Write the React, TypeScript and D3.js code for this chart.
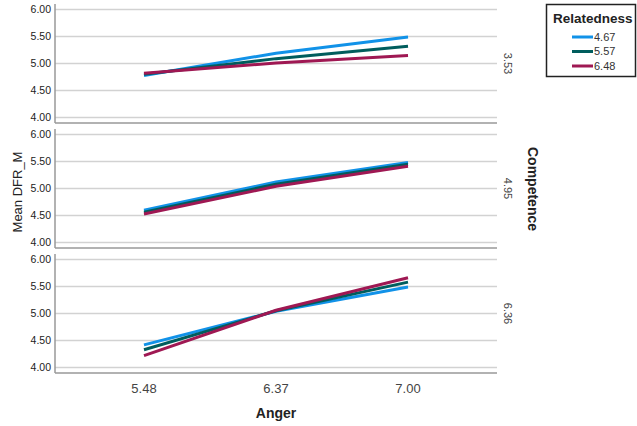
import React from "react";
import * as d3 from "d3";

// Anger levels on the x axis
const angerLevels = ["5.48", "6.37", "7.00"];
// Competence panels (one row each)
const competenceLevels = ["3.53", "4.95", "6.36"];
// Relatedness series
const relatednessLevels = ["4.67", "5.57", "6.48"];
const seriesColors = ["#1192E8", "#005D5D", "#9F1853"];

// Mean DFR_M per competence panel, per relatedness series, across anger levels
const panel353 = [
  [4.78, 5.19, 5.49],
  [4.8, 5.09, 5.32],
  [4.82, 5.01, 5.15],
];
const panel495 = [
  [4.6, 5.12, 5.48],
  [4.56, 5.08, 5.45],
  [4.53, 5.04, 5.41],
];
const panel636 = [
  [4.42, 5.04, 5.49],
  [4.33, 5.05, 5.58],
  [4.22, 5.06, 5.66],
];
const panelValues = [panel353, panel495, panel636];

const yTicks = [4.0, 4.5, 5.0, 5.5, 6.0];

const W = 637;
const H = 426;
const plotLeft = 55;
const plotRight = 497;
const panelTops = [4, 129, 254];
const panelHeight = 119;
const font = "'Liberation Sans', Arial, sans-serif";

export default function App() {
  const x = d3
    .scalePoint<string>()
    .domain(angerLevels)
    .range([plotLeft, plotRight])
    .padding(0.674);

  const line = (y: d3.ScaleLinear<number, number>) =>
    d3
      .line<number>()
      .x((_, i) => x(angerLevels[i]) as number)
      .y((v) => y(v));

  const plotBottom = panelTops[2] + panelHeight;

  return (
    <svg
      width={W}
      height={H}
      style={{ position: "absolute", left: 0, top: 0, background: "#fff" }}
      fontFamily={font}
    >
      {competenceLevels.map((c, pi) => {
        const top = panelTops[pi];
        const bottom = top + panelHeight;
        const y = d3.scaleLinear().domain([3.9, 6.1]).range([bottom, top]);
        const gen = line(y);
        return (
          <g key={c}>
            {yTicks.map((t) => (
              <g key={t}>
                <line
                  x1={plotLeft}
                  x2={plotRight}
                  y1={y(t)}
                  y2={y(t)}
                  stroke="#d2d2d2"
                  strokeWidth={1.5}
                />
                <text
                  x={plotLeft - 4}
                  y={y(t)}
                  dy="0.35em"
                  textAnchor="end"
                  fontSize={10.5}
                  fill="#222"
                >
                  {t.toFixed(2)}
                </text>
              </g>
            ))}
            <line
              x1={plotLeft}
              x2={plotLeft}
              y1={top}
              y2={bottom}
              stroke="#999"
              strokeWidth={1.5}
            />
            <line
              x1={plotLeft}
              x2={plotRight}
              y1={bottom}
              y2={bottom}
              stroke="#999"
              strokeWidth={1.5}
            />
            {panelValues[pi].map((vals, si) => (
              <path
                key={si}
                d={gen(vals) ?? ""}
                fill="none"
                stroke={seriesColors[si]}
                strokeWidth={3}
                strokeLinecap="butt"
              />
            ))}
            <text
              transform={`translate(508, ${(top + bottom) / 2}) rotate(90)`}
              textAnchor="middle"
              dy="0.35em"
              fontSize={11}
              fill="#444"
            >
              {c}
            </text>
          </g>
        );
      })}

      {angerLevels.map((a) => (
        <text
          key={a}
          x={x(a)}
          y={plotBottom + 15}
          dy="0.35em"
          textAnchor="middle"
          fontSize={13}
          fill="#444"
        >
          {a}
        </text>
      ))}

      <text
        x={(plotLeft + plotRight) / 2}
        y={413}
        dy="0.35em"
        textAnchor="middle"
        fontSize={14}
        fontWeight="bold"
        fill="#222"
      >
        Anger
      </text>

      <text
        transform={`translate(17, 192) rotate(-90)`}
        textAnchor="middle"
        dy="0.35em"
        fontSize={13}
        fill="#222"
      >
        Mean DFR_M
      </text>

      <text
        transform={`translate(533, 189) rotate(90)`}
        textAnchor="middle"
        dy="0.35em"
        fontSize={14}
        fontWeight="bold"
        fill="#222"
      >
        Competence
      </text>

      <g>
        <rect
          x={546.5}
          y={4.5}
          width={89}
          height={72}
          fill="#fff"
          stroke="#222"
          strokeWidth={1.5}
        />
        <text x={553} y={23} fontSize={13.5} fontWeight="bold" fill="#222">
          Relatedness
        </text>
        {relatednessLevels.map((r, i) => {
          const ly = 37 + i * 14.5;
          return (
            <g key={r}>
              <line
                x1={572}
                x2={593}
                y1={ly}
                y2={ly}
                stroke={seriesColors[i]}
                strokeWidth={3}
              />
              <text x={594} y={ly} dy="0.35em" fontSize={11} fill="#333">
                {r}
              </text>
            </g>
          );
        })}
      </g>
    </svg>
  );
}
